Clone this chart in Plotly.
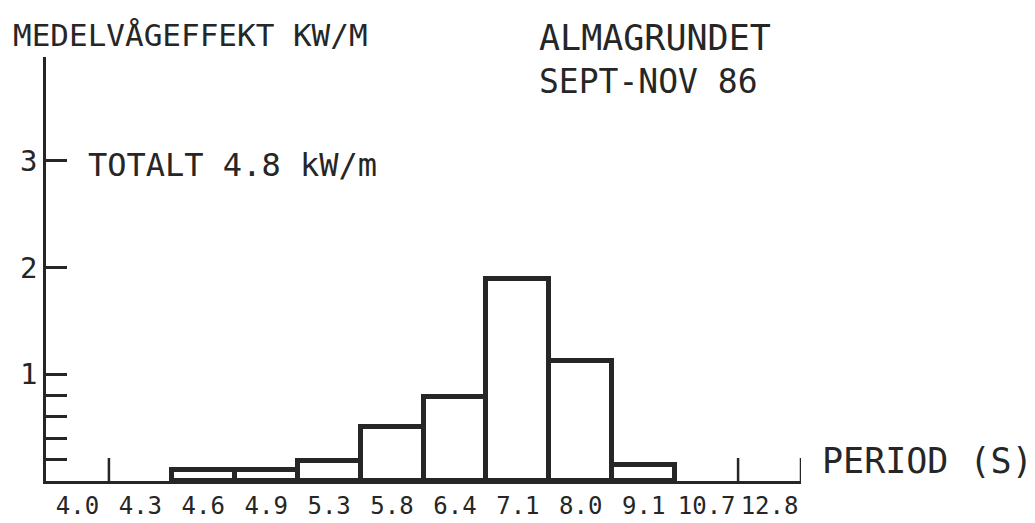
import plotly.graph_objects as go

# ---- data ----
period_labels = ["4.0", "4.3", "4.6", "4.9", "5.3", "5.8", "6.4", "7.1", "8.0", "9.1", "10.7", "12.8"]
mean_power = [0.0, 0.0, 0.10, 0.10, 0.19, 0.51, 0.79, 1.89, 1.12, 0.15, 0.0, 0.0]
y_tick_vals = [0.2, 0.4, 0.6, 0.8, 1, 2, 3]
y_tick_text = ["", "", "", "", "1", "2", "3"]

title_left = "MEDELVÅGEFFEKT KW/M"
title_right_1 = "ALMAGRUNDET"
title_right_2 = "SEPT-NOV 86"
total_text = "TOTALT 4.8 kW/m"
x_title = "PERIOD (S)"

W, H = 1035, 523
ML, MR, MT, MB = 46, 234, 57, 42
PW, PH = W - ML - MR, H - MT - MB

INK = "#262626"
FONT = "DejaVu Sans Mono"


def px_x(x):
    return (x - ML) / PW


def px_y(y):
    return (H - MB - y) / PH


idx = list(range(len(period_labels)))

fig = go.Figure()
fig.add_trace(go.Bar(
    x=idx,
    y=mean_power,
    width=1.0,
    marker=dict(
        color="white",
        line=dict(color=INK, width=[0 if v == 0 else 5 for v in mean_power]),
    ),
    hoverinfo="x+y",
))

# small boundary ticks on the period axis where no bar covers them
shapes = []
n = len(mean_power)
for i in range(1, n + 1):
    left = mean_power[i - 1]
    right = mean_power[i] if i < n else 0.0
    if left == 0 and right == 0:
        shapes.append(dict(
            type="line", xref="x", yref="paper",
            x0=i - 0.5, x1=i - 0.5, y0=0, y1=23 / PH,
            line=dict(color=INK, width=2.5), layer="below",
        ))

annotations = [
    dict(text=title_left, x=px_x(11), y=px_y(35), xanchor="left", yanchor="middle",
         font=dict(size=31, family=FONT, color=INK)),
    dict(text=title_right_1, x=px_x(537), y=px_y(38), xanchor="left", yanchor="middle",
         font=dict(size=35, family=FONT, color=INK)),
    dict(text=title_right_2, x=px_x(537), y=px_y(81), xanchor="left", yanchor="middle",
         font=dict(size=33, family=FONT, color=INK)),
    dict(text=total_text, x=px_x(86), y=px_y(165), xanchor="left", yanchor="middle",
         font=dict(size=32, family=FONT, color=INK)),
    dict(text=x_title, x=px_x(820), y=px_y(461), xanchor="left", yanchor="middle",
         font=dict(size=35, family=FONT, color=INK)),
]
for a in annotations:
    a.update(xref="paper", yref="paper", showarrow=False)

fig.update_layout(
    width=W, height=H,
    margin=dict(l=ML, r=MR, t=MT, b=MB, pad=0, autoexpand=False),
    paper_bgcolor="white", plot_bgcolor="white",
    showlegend=False,
    shapes=shapes,
    annotations=annotations,
    bargap=0,
)
fig.update_xaxes(
    range=[-0.5, n - 0.5],
    tickmode="array", tickvals=idx, ticktext=period_labels,
    showgrid=False, zeroline=False,
    showline=True, linecolor=INK, linewidth=3,
    ticks="", ticklabelstandoff=1,
    tickfont=dict(size=24, family=FONT, color=INK),
    layer="below traces", fixedrange=True, automargin=False,
)
fig.update_yaxes(
    range=[0, 3.97],
    tickmode="array", tickvals=y_tick_vals, ticktext=y_tick_text,
    showgrid=False, zeroline=False,
    showline=True, linecolor=INK, linewidth=2.5,
    ticks="inside", ticklen=21, tickwidth=2.5, tickcolor=INK,
    ticklabelstandoff=0,
    tickfont=dict(size=29, family=FONT, color=INK),
    layer="below traces", fixedrange=True, automargin=False,
)

fig.write_html("out.html")
